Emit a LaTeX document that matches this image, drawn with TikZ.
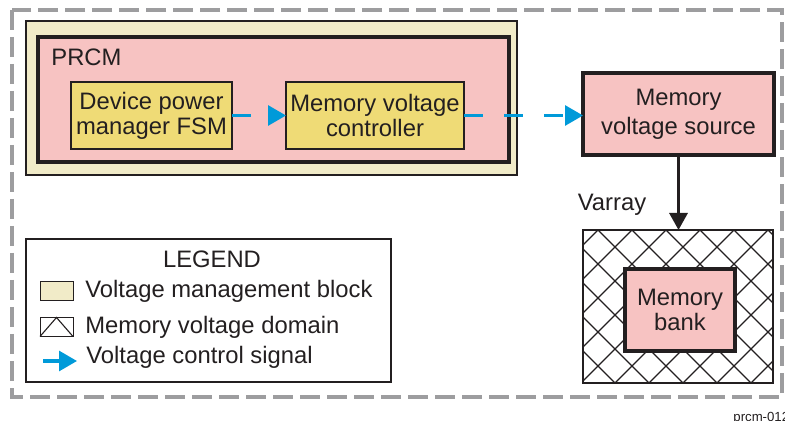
\documentclass[tikz,border=0pt]{standalone}
\usepackage{fontspec}
\setmainfont{Liberation Sans}
\usetikzlibrary{positioning,arrows.meta}
\definecolor{Cream}{HTML}{F1EBC8}
\definecolor{Blush}{HTML}{F7C3C2}
\definecolor{Butter}{HTML}{EFDB76}
\definecolor{Signal}{HTML}{009AD9}
\definecolor{Frame}{HTML}{9D9D9F}
\definecolor{Ink}{HTML}{231F20}
\tikzset{
  base box/.style={draw=Ink,inner sep=0pt,outer sep=0pt,align=center,text=Ink,
    font=\fontsize{11.9pt}{12.6pt}\selectfont},
  manage block/.style={base box,fill=Cream,line width=1.2pt},
  prcm block/.style={base box,fill=Blush,line width=2pt},
  fsm block/.style={base box,fill=Butter,line width=1.1pt},
  supply block/.style={base box,fill=Blush,line width=2pt,
    font=\fontsize{11.9pt}{14.5pt}\selectfont},
  domain block/.style={base box,line width=1.2pt},
  legend box/.style={base box,line width=.7pt},
  swatch/.style={draw=Ink,line width=.5pt,minimum width=16.5pt,
    minimum height=9.5pt,inner sep=0pt,outer sep=0pt},
  plain text/.style={text=Ink,inner sep=0pt,font=\fontsize{11.9pt}{12.6pt}\selectfont},
  signal arrow/.style={draw=Signal,line width=1.5pt,-{Triangle[length=9pt,width=10pt]}},
  supply arrow/.style={draw=Ink,line width=1.6pt,-{Triangle[length=8.5pt,width=9pt]}},
  hatch line/.style={draw=Ink,line width=.55pt}
}
\begin{document}
\begin{tikzpicture}[x=0.5pt,y=-0.5pt]
  \useasboundingbox (0,0) rectangle (785,421);
  % outer dashed frame
  \draw[Frame,line width=1.6pt,dash pattern=on 10pt off 3.5pt] (12,10) rectangle (782,397);
  % voltage management block and PRCM
  \node[manage block,minimum width=245.5pt,minimum height=77pt] (vmb) at (271.5,98) {};
  \node[prcm block,minimum width=235.5pt,minimum height=62.5pt] (prcm) at (273.5,99.5) {};
  \node[plain text,anchor=west] (prcmlabel) at (51,57.5) {PRCM};
  \node[fsm block,minimum width=80.5pt,minimum height=33.5pt] (fsm) at (151.5,115.5) {Device power\\manager FSM};
  \node[fsm block,minimum width=89pt,minimum height=33.5pt] (mvc) at (375,115.5) {Memory voltage\\controller};
  % memory side
  \node[supply block,minimum width=95.5pt,minimum height=41pt] (mvs) at (678.5,114) {Memory\\voltage source};
  \node[domain block,minimum width=95pt,minimum height=76.5pt] (domain) at (678,306.5) {};
  \begin{scope}
    \clip (domain.south west) rectangle (domain.north east);
    \foreach \k in {-6,...,10} {
      \draw[hatch line] (598+34*\k,230) -- ++(200,200);
      \draw[hatch line] (598+34*\k,230) -- ++(-200,200);
    }
  \end{scope}
  \node[prcm block,minimum width=55pt,minimum height=41pt] (bank) at (680,310) {Memory\\bank};
  \node[plain text] (varray) at (612,205) {Varray};
  % connectors
  \draw[signal arrow,dash pattern=on 9.5pt off 10.5pt] (fsm) -- (mvc);
  \draw[signal arrow,dash pattern=on 9.5pt off 10.5pt] (mvc.east) -- (mvc.east -| mvs.west);
  \draw[supply arrow] (mvs.south) -- (mvs.south |- domain.north);
  % legend
  \node[legend box,minimum width=182.5pt,minimum height=71.5pt] (legend) at (208.5,310.5) {};
  \node[plain text] (legendtitle) at (212,259) {LEGEND};
  \node[swatch,fill=Cream] (mgmtkey) at (56.5,291.5) {};
  \node[plain text,right=6pt of mgmtkey] (mgmttext) {Voltage management block};
  \node[swatch] (domkey) at (56.5,327) {};
  \draw[hatch line] (domkey.south west) -- (domkey.north) -- (domkey.south east);
  \node[plain text,right=6pt of domkey] (domtext) {Memory voltage domain};
  \coordinate (sigstart) at (43,361);
  \coordinate (sigend) at (77,361);
  \draw[signal arrow] (sigstart) -- (sigend);
  \node[plain text,anchor=west] (sigtext) at (86,357) {Voltage control signal};
  \node[text=Ink,font=\fontsize{6.6pt}{7pt}\selectfont,anchor=west,inner sep=0pt] (figid) at (733,418) {prcm-012};
\end{tikzpicture}
\end{document}
